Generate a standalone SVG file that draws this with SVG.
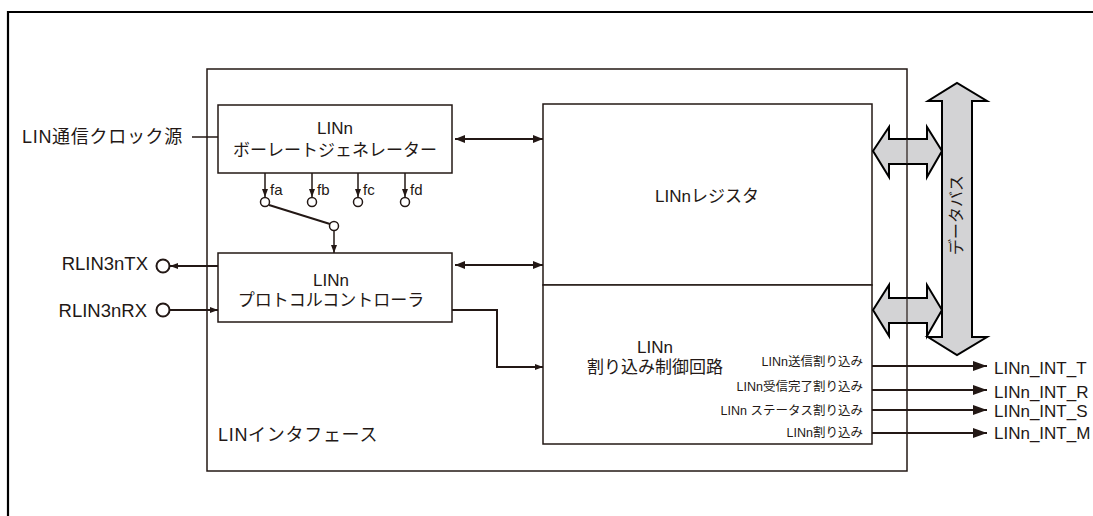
<svg xmlns="http://www.w3.org/2000/svg" width="1093" height="516" viewBox="0 0 1093 516">
<defs>
<marker id="ah" viewBox="0 0 10 8" refX="10" refY="4" markerWidth="10" markerHeight="8" markerUnits="userSpaceOnUse" orient="auto-start-reverse">
<path d="M0,0 L10,4 L0,8 Z" fill="#231815"/>
</marker>
<marker id="ahs" viewBox="0 0 8 6" refX="8" refY="3" markerWidth="8" markerHeight="6" markerUnits="userSpaceOnUse" orient="auto-start-reverse">
<path d="M0,0 L8,3 L0,6 Z" fill="#231815"/>
</marker>
<marker id="ahb" viewBox="0 0 14 10" refX="14" refY="5" markerWidth="14" markerHeight="10" markerUnits="userSpaceOnUse" orient="auto">
<path d="M0,0 L14,5 L0,10 Z" fill="#231815"/>
</marker>
</defs>
<style>
.box{fill:#fff;stroke:#231815;stroke-width:1.5}
.ln{fill:none;stroke:#231815;stroke-width:1.5}
.ln2{fill:none;stroke:#231815;stroke-width:2}
.bus{fill:#d3d3d5;stroke:#000;stroke-width:2;stroke-linejoin:miter}
.pin{fill:#fff;stroke:#231815;stroke-width:2}
.sw{fill:#fff;stroke:#231815;stroke-width:1.5}
text{font-family:"Liberation Sans","Noto Sans CJK JP",sans-serif;fill:#231815}
.t17{font-size:17px}
.t18{font-size:18px;letter-spacing:0.7px}
.pinl{font-size:18.5px}
.out{font-size:17px}
.t11{font-size:12.5px}
.t15{font-size:15px}
.bust{font-size:16px}
</style>
<rect width="1093" height="516" fill="#fff"/>
<g id="frame">
<path d="M8,516 L8,12 L1093,12" class="ln2" style="stroke:#000;stroke-width:2.2"/>
</g>
<g id="lin-interface">
<rect x="207" y="69" width="700" height="402" class="box"/>
<text x="218" y="441" class="t18">LINインタフェース</text>
</g>
<g id="baud-generator">
<rect x="218" y="105" width="234" height="68" class="box"/>
<text x="335" y="133.5" class="t17" text-anchor="middle">LINn</text>
<text x="335" y="155.5" class="t17" text-anchor="middle">ボーレートジェネレーター</text>
</g>
<g id="protocol-controller">
<rect x="218" y="253" width="234" height="69" class="box"/>
<text x="331" y="286" class="t17" text-anchor="middle">LINn</text>
<text x="331" y="306" class="t17" text-anchor="middle">プロトコルコントローラ</text>
</g>
<g id="register">
<rect x="543" y="104" width="329" height="181" class="box"/>
<text x="707" y="202" class="t17" text-anchor="middle">LINnレジスタ</text>
</g>
<g id="interrupt-controller">
<rect x="543" y="285" width="329" height="159" class="box"/>
<text x="655" y="352.5" class="t17" text-anchor="middle">LINn</text>
<text x="655" y="373" class="t17" text-anchor="middle">割り込み制御回路</text>
<text x="863" y="366" class="t11" text-anchor="end">LINn送信割り込み</text>
<text x="863" y="391" class="t11" text-anchor="end">LINn受信完了割り込み</text>
<text x="863" y="414.5" class="t11" text-anchor="end">LINn ステータス割り込み</text>
<text x="863" y="436.5" class="t11" text-anchor="end">LINn割り込み</text>
</g>
<g id="clock-source">
<text x="22" y="143" class="t18">LIN通信クロック源</text>
</g>
<g id="pins">
<circle cx="163" cy="266" r="6.5" class="pin"/>
<text x="148" y="269.5" class="pinl" text-anchor="end">RLIN3nTX</text>
<circle cx="163" cy="310" r="6.5" class="pin"/>
<text x="147" y="317" class="pinl" text-anchor="end">RLIN3nRX</text>
<text x="994" y="374.3" class="out">LINn_INT_T</text>
<text x="994" y="398" class="out">LINn_INT_R</text>
<text x="994" y="417.3" class="out">LINn_INT_S</text>
<text x="994" y="439.3" class="out">LINn_INT_M</text>
</g>
<g id="clock-select">
<circle cx="265" cy="202" r="4.5" class="sw"/>
<circle cx="312" cy="202" r="4.5" class="sw"/>
<circle cx="358" cy="202" r="4.5" class="sw"/>
<circle cx="405" cy="202" r="4.5" class="sw"/>
<circle cx="334" cy="226" r="4.5" class="sw"/>
<text x="270" y="195" class="t15">fa</text>
<text x="317" y="195" class="t15">fb</text>
<text x="363" y="195" class="t15">fc</text>
<text x="410" y="195" class="t15">fd</text>
</g>
<g id="data-bus">
<path d="M942,337 L942,101 L928,101 L957,83 L987,101 L972,101 L972,337 L987,337 L957,355 L928,337 Z" class="bus"/>
<path d="M873,151 L889,127 L889,139 L927,139 L927,127 L942,151 L927,177 L927,164 L889,164 L889,177 Z" class="bus"/>
<path d="M873,310 L889,285 L889,298 L927,298 L927,285 L942,310 L927,336 L927,323 L889,323 L889,336 Z" class="bus"/>
<line x1="907" y1="139" x2="907" y2="164" class="ln" style="stroke-width:1.2"/>
<line x1="907" y1="298" x2="907" y2="323" class="ln" style="stroke-width:1.2"/>
<text transform="translate(962,215) rotate(-90)" class="bust" text-anchor="middle">データバス</text>
</g>
<g id="connectors">
<line x1="192" y1="137" x2="218" y2="137" class="ln"/>
<line x1="455" y1="139" x2="543" y2="139" class="ln2" marker-start="url(#ah)" marker-end="url(#ah)"/>
<line x1="455" y1="265" x2="543" y2="265" class="ln2" marker-start="url(#ah)" marker-end="url(#ah)"/>
<line x1="265" y1="173" x2="265" y2="197" class="ln" marker-end="url(#ahs)"/>
<line x1="312" y1="173" x2="312" y2="197" class="ln" marker-end="url(#ahs)"/>
<line x1="358" y1="173" x2="358" y2="197" class="ln" marker-end="url(#ahs)"/>
<line x1="405" y1="173" x2="405" y2="197" class="ln" marker-end="url(#ahs)"/>
<line x1="269" y1="205" x2="330" y2="224" class="ln2"/>
<line x1="334" y1="231" x2="334" y2="253" class="ln" marker-end="url(#ahs)"/>
<line x1="218" y1="266" x2="170" y2="266" class="ln2" marker-end="url(#ahs)"/>
<line x1="169" y1="310" x2="218" y2="310" class="ln2" marker-end="url(#ahs)"/>
<path d="M452,310 L497,310 L497,367 L543,367" class="ln2" marker-end="url(#ahs)"/>
<line x1="872" y1="366" x2="987" y2="366" class="ln2" marker-end="url(#ahb)"/>
<line x1="872" y1="390" x2="987" y2="390" class="ln2" marker-end="url(#ahb)"/>
<line x1="872" y1="410" x2="987" y2="410" class="ln2" marker-end="url(#ahb)"/>
<line x1="872" y1="433" x2="987" y2="433" class="ln2" marker-end="url(#ahb)"/>
</g>
</svg>
